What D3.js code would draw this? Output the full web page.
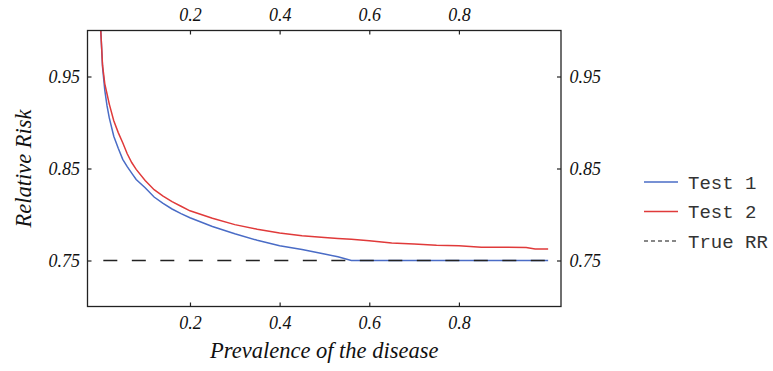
<!DOCTYPE html>
<html lang="en">
<head>
<meta charset="utf-8">
<title>Relative risk vs prevalence</title>
<script src="https://cdn.jsdelivr.net/npm/d3@7"></script>
<style>
  body { margin: 0; background: #fff; }
  .tick text { font-family: "Liberation Serif", "Times New Roman", serif; font-style: italic; font-size: 18px; fill: #111; }
  .tick line { stroke: #222; stroke-width: 1.2; }
  .domain { display: none; }
</style>
</head>
<body>
<script>
// data
var prevalence = [0.001, 0.005, 0.01, 0.015, 0.02, 0.03, 0.04, 0.05, 0.06, 0.07, 0.08,
                  0.1, 0.12, 0.14, 0.16, 0.18, 0.2, 0.25, 0.3, 0.35, 0.4, 0.45, 0.5,
                  0.53, 0.56, 0.6, 0.65, 0.7, 0.75, 0.8, 0.85, 0.9, 0.95, 0.97, 0.999];
var test1 = [1.0, 0.96, 0.935, 0.918, 0.905, 0.885, 0.872, 0.86, 0.852, 0.845, 0.838,
             0.829, 0.819, 0.812, 0.806, 0.801, 0.7965, 0.787, 0.779, 0.772, 0.766, 0.762, 0.757,
             0.754, 0.75, 0.75, 0.75, 0.75, 0.75, 0.75, 0.75, 0.75, 0.75, 0.75, 0.75];
var test2 = [1.0, 0.962, 0.942, 0.931, 0.92, 0.902, 0.889, 0.878, 0.866, 0.8565, 0.849,
             0.837, 0.827, 0.82, 0.814, 0.809, 0.804, 0.796, 0.789, 0.784, 0.78, 0.777, 0.775,
             0.774, 0.773, 0.7715, 0.769, 0.768, 0.7665, 0.766, 0.7645, 0.7645, 0.764, 0.7625, 0.7625];
var trueRR = 0.75;
var xTicks = [0.2, 0.4, 0.6, 0.8];
var yTicks = [0.75, 0.85, 0.95];
var seriesNames = ["Test 1", "Test 2", "True RR"];
var seriesColors = ["#4a6cc6", "#e03a3a", "#111"];

var W = 773, H = 371;
// plot box (note: "top" is a reserved window property, so use other names)
var pL = 87.5, pR = 561, pT = 30.5, pB = 306.5;

var svg = d3.select("body").append("svg")
  .attr("width", W)
  .attr("height", H);

var x = d3.scaleLinear().domain([-0.0286, 1.0277]).range([pL, pR]);
var y = d3.scaleLinear().domain([0.7, 1.0]).range([pB, pT]);

svg.append("defs").append("clipPath").attr("id", "plot")
  .append("rect")
  .attr("x", pL).attr("y", pT)
  .attr("width", pR - pL).attr("height", pB - pT);

// axes, ticks pointing inward
var fmt = d3.format(".1f");
svg.append("g").attr("transform", "translate(0," + pB + ")")
  .call(d3.axisBottom(x).tickValues(xTicks).tickFormat(fmt).tickSizeInner(-4).tickSizeOuter(0).tickPadding(10));
svg.append("g").attr("transform", "translate(0," + pT + ")")
  .call(d3.axisTop(x).tickValues(xTicks).tickFormat(fmt).tickSizeInner(-4).tickSizeOuter(0).tickPadding(9.5));
svg.append("g").attr("transform", "translate(" + pL + ",0)")
  .call(d3.axisLeft(y).tickValues(yTicks).tickFormat(d3.format(".2f")).tickSizeInner(-4).tickSizeOuter(0).tickPadding(7.5));
svg.append("g").attr("transform", "translate(" + pR + ",0)")
  .call(d3.axisRight(y).tickValues(yTicks).tickFormat(d3.format(".2f")).tickSizeInner(-4).tickSizeOuter(0).tickPadding(8.5));

var line = d3.line()
  .x(function(d) { return x(d[0]); })
  .y(function(d) { return y(d[1]); });

var plot = svg.append("g").attr("clip-path", "url(#plot)");

plot.append("path")
  .datum(prevalence.map(function(p, i) { return [p, test1[i]]; }))
  .attr("d", line)
  .attr("fill", "none")
  .attr("stroke", seriesColors[0])
  .attr("stroke-width", 1.5);

plot.append("path")
  .datum(prevalence.map(function(p, i) { return [p, test2[i]]; }))
  .attr("d", line)
  .attr("fill", "none")
  .attr("stroke", seriesColors[1])
  .attr("stroke-width", 1.5);

plot.append("path")
  .datum([[0, trueRR], [1, trueRR]])
  .attr("d", line)
  .attr("fill", "none")
  .attr("stroke", "#222")
  .attr("stroke-width", 1.6)
  .attr("stroke-dasharray", "14,14.5")
  .attr("stroke-dashoffset", -3);

// frame
svg.append("rect")
  .attr("x", pL).attr("y", pT)
  .attr("width", pR - pL).attr("height", pB - pT)
  .attr("fill", "none")
  .attr("stroke", "#222")
  .attr("stroke-width", 1.3);

// axis titles
svg.append("text")
  .attr("x", (pL + pR) / 2)
  .attr("y", 358)
  .attr("text-anchor", "middle")
  .attr("font-family", "Liberation Serif, Times New Roman, serif")
  .attr("font-style", "italic")
  .attr("font-size", "22.5px")
  .attr("fill", "#111")
  .text("Prevalence of the disease");

svg.append("text")
  .attr("transform", "translate(31," + ((pT + pB) / 2) + ") rotate(-90)")
  .attr("text-anchor", "middle")
  .attr("font-family", "Liberation Serif, Times New Roman, serif")
  .attr("font-style", "italic")
  .attr("font-size", "22.5px")
  .attr("fill", "#111")
  .text("Relative Risk");

// legend
var legend = svg.selectAll(".legend")
  .data(seriesNames)
  .enter()
  .append("g")
  .attr("class", "legend")
  .attr("transform", function(d, i) { return "translate(644," + (182 + i * 29.5) + ")"; });

legend.append("line")
  .attr("x1", 0).attr("x2", 34)
  .attr("stroke", function(d, i) { return seriesColors[i]; })
  .attr("stroke-width", function(d, i) { return i == 2 ? 1.2 : 1.5; })
  .attr("stroke-dasharray", function(d, i) { return i == 2 ? "4,3" : null; });

legend.append("text")
  .attr("x", 44)
  .attr("dy", "0.35em")
  .attr("font-family", "Liberation Mono, Courier New, monospace")
  .attr("font-size", "19px")
  .attr("fill", "#333")
  .text(function(d) { return d; });
</script>
</body>
</html>
